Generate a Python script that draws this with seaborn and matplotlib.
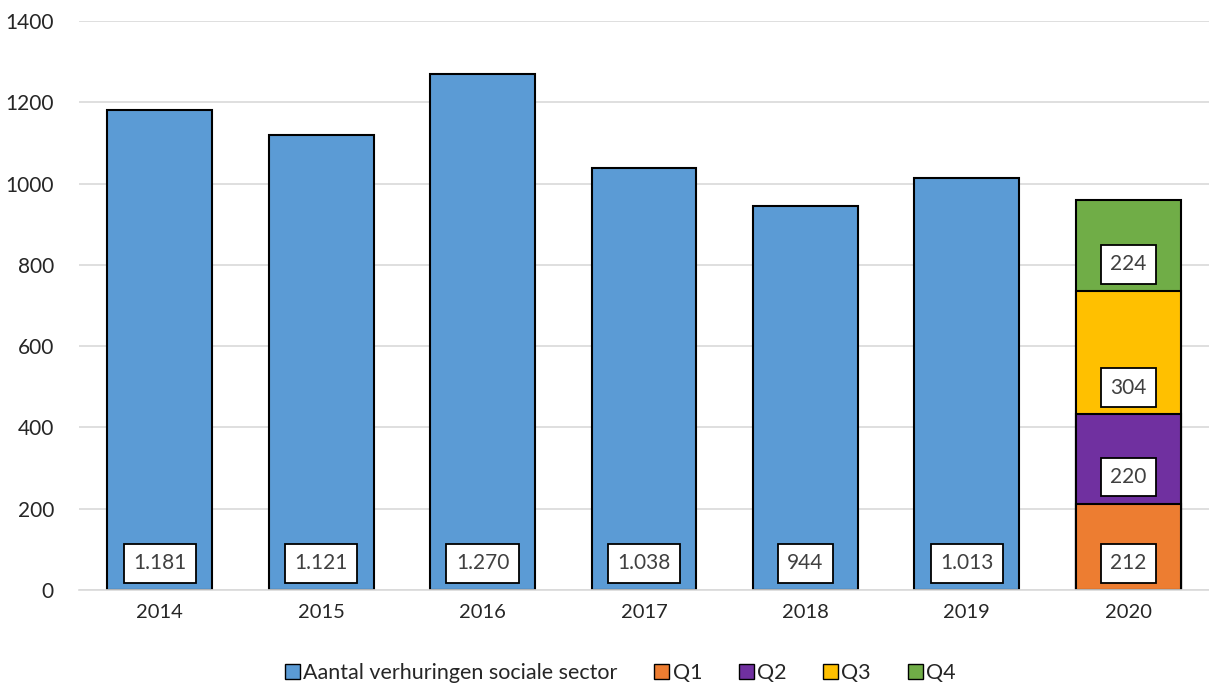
import pandas as pd
import matplotlib.pyplot as plt
import seaborn as sns
from matplotlib.patches import Patch

# Data
years = ["2014", "2015", "2016", "2017", "2018", "2019", "2020"]
verhuringen = [1181, 1121, 1270, 1038, 944, 1013]
kwartalen = ["Q1", "Q2", "Q3", "Q4"]
waarden_2020 = [212, 220, 304, 224]

kleur_blauw = "#5B9BD5"
kleuren_q = ["#ED7D31", "#7030A0", "#FFC000", "#70AD47"]

sns.set_style("white")
plt.rcParams["font.family"] = ["Lato", "DejaVu Sans"]

fig = plt.figure(figsize=(12.09, 6.85), dpi=100)
ax = fig.add_axes([0.0653, 0.1387, 0.9347, 0.8303])

df = pd.DataFrame({"jaar": years[:6], "aantal": verhuringen})
sns.barplot(data=df, x="jaar", y="aantal", order=years, color=kleur_blauw,
            width=0.65, edgecolor="black", linewidth=1.5, saturation=1, ax=ax)

# gestapelde kolom 2020: cumulatief, groot naar klein tekenen
cum = pd.Series(waarden_2020).cumsum().tolist()
for i in range(len(kwartalen) - 1, -1, -1):
    d = pd.DataFrame({"jaar": ["2020"], "aantal": [cum[i]]})
    sns.barplot(data=d, x="jaar", y="aantal", order=years, color=kleuren_q[i],
                width=0.65, edgecolor="black", linewidth=1.5, saturation=1, ax=ax)

def fmt(v):
    return f"{v:,}".replace(",", ".")

box = dict(boxstyle="square,pad=0.45", facecolor="white", edgecolor="black", linewidth=1.3)
for i, v in enumerate(verhuringen):
    ax.text(i, 66, fmt(v), ha="center", va="center", fontsize=15, color="#404040", bbox=box)
basis = [0] + cum[:-1]
for b, v in zip(basis, waarden_2020):
    ax.text(6, b + 66, fmt(v), ha="center", va="center", fontsize=15, color="#404040", bbox=box)

ax.set_ylim(0, 1400)
ax.set_xlim(-0.5, 6.5)
ax.set_yticks(range(0, 1401, 200))
ax.yaxis.grid(True, color="#D9D9D9", linewidth=1.2)
ax.set_axisbelow(True)
ax.tick_params(axis="x", length=0, labelsize=14.5, pad=10)
ax.tick_params(axis="y", length=0, labelsize=15, pad=18)
ax.set_xlabel("")
ax.set_ylabel("")
for s in ["top", "right", "left"]:
    ax.spines[s].set_visible(False)
ax.spines["bottom"].set_color("#D9D9D9")
ax.spines["bottom"].set_linewidth(1.2)

handles = [Patch(facecolor=kleur_blauw, edgecolor="black", label="Aantal verhuringen sociale sector")]
handles += [Patch(facecolor=c, edgecolor="black", label=q) for c, q in zip(kleuren_q, kwartalen)]
fig.legend(handles=handles, loc="lower center", bbox_to_anchor=(0.513, -0.025), ncol=5,
           frameon=False, fontsize=15.5, handlelength=0.7, handleheight=0.7,
           handletextpad=0.15, columnspacing=1.7)

plt.savefig("out.png", dpi=100)
